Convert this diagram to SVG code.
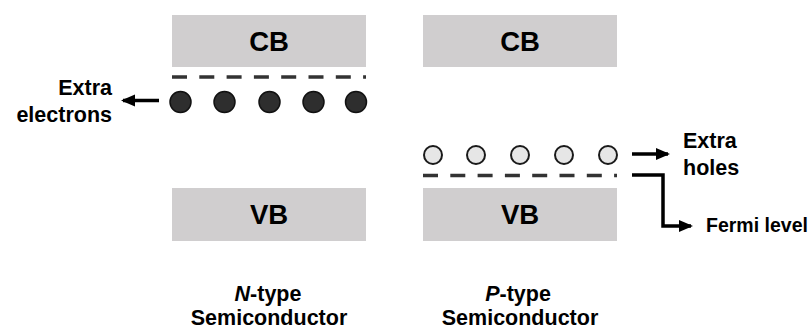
<svg xmlns="http://www.w3.org/2000/svg" width="810" height="331" viewBox="0 0 810 331">
  <style>
    .band { fill: #d0cecf; }
    .band-label { font-family: "Liberation Sans", Arial, sans-serif; font-weight: bold; font-size: 27.5px; fill: #000; text-anchor: middle; }
    .label { font-family: "Liberation Sans", Arial, sans-serif; font-weight: bold; font-size: 21.5px; fill: #000; }
    .small { font-size: 19.5px; }
    .fermi { stroke: #333; stroke-width: 3.5; stroke-dasharray: 15 12.3; fill: none; }
    .electron { fill: #2e2e2e; stroke: #111; stroke-width: 1.5; }
    .hole { fill: #e6e6e6; stroke: #1a1a1a; stroke-width: 2; }
    .conn { stroke: #000; stroke-width: 3.5; fill: none; }
  </style>
  <defs>
    <marker id="arrow" viewBox="0 0 14 14" refX="12" refY="7" markerWidth="14" markerHeight="14" orient="auto" markerUnits="userSpaceOnUse">
      <path d="M0,1 L14,7 L0,13 z" fill="#000"/>
    </marker>
  </defs>
  <rect width="810" height="331" fill="#fff"/>

  <!-- N-type semiconductor -->
  <g id="n-cb">
    <rect class="band" x="172" y="15" width="194" height="52"/>
    <text class="band-label" x="269" y="51">CB</text>
  </g>
  <g id="n-vb">
    <rect class="band" x="172" y="188" width="194" height="53"/>
    <text class="band-label" x="269" y="224">VB</text>
  </g>
  <g id="n-fermi">
    <line class="fermi" x1="172" y1="77" x2="366" y2="77"/>
  </g>
  <g id="electrons">
    <circle class="electron" cx="180.5" cy="102" r="10.5"/>
    <circle class="electron" cx="224.5" cy="102" r="10.5"/>
    <circle class="electron" cx="269.5" cy="102" r="10.5"/>
    <circle class="electron" cx="313.5" cy="102" r="10.5"/>
    <circle class="electron" cx="356" cy="102" r="10.5"/>
  </g>
  <g id="extra-electrons">
    <text class="label" text-anchor="end" x="112" y="95">Extra</text>
    <text class="label" text-anchor="end" x="112" y="122">electrons</text>
  </g>
  <g id="n-title">
    <text class="label" text-anchor="middle" x="268" y="301"><tspan font-style="italic">N</tspan>-type</text>
    <text class="label" text-anchor="middle" x="269" y="325">Semiconductor</text>
  </g>

  <!-- P-type semiconductor -->
  <g id="p-cb">
    <rect class="band" x="423" y="15" width="194" height="52"/>
    <text class="band-label" x="520" y="51">CB</text>
  </g>
  <g id="p-vb">
    <rect class="band" x="423" y="188" width="194" height="53"/>
    <text class="band-label" x="520" y="224">VB</text>
  </g>
  <g id="p-fermi">
    <line class="fermi" x1="423" y1="175.5" x2="617" y2="175.5"/>
  </g>
  <g id="holes">
    <circle class="hole" cx="433" cy="155" r="9"/>
    <circle class="hole" cx="476" cy="155" r="9"/>
    <circle class="hole" cx="520" cy="155" r="9"/>
    <circle class="hole" cx="564" cy="155" r="9"/>
    <circle class="hole" cx="608" cy="155" r="9"/>
  </g>
  <g id="extra-holes">
    <text class="label" x="683" y="148">Extra</text>
    <text class="label" x="683" y="175">holes</text>
  </g>
  <g id="fermi-level">
    <text class="label small" x="706" y="232">Fermi level</text>
  </g>
  <g id="p-title">
    <text class="label" text-anchor="middle" x="518" y="301"><tspan font-style="italic">P</tspan>-type</text>
    <text class="label" text-anchor="middle" x="520" y="325">Semiconductor</text>
  </g>

  <!-- connectors -->
  <g id="connectors">
    <line class="conn" x1="159" y1="100.5" x2="123" y2="100.5" marker-end="url(#arrow)"/>
    <line class="conn" x1="632" y1="154" x2="668" y2="154" marker-end="url(#arrow)"/>
    <polyline class="conn" points="632,175 663,175 663,226 691,226" marker-end="url(#arrow)"/>
  </g>
</svg>
